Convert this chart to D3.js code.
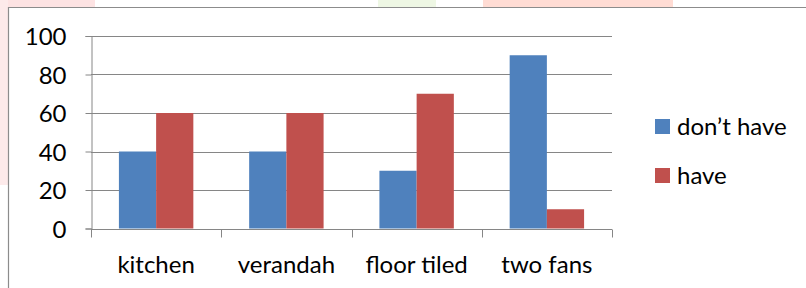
<!DOCTYPE html>
<head>
  <meta charset="utf-8">
  <script src="https://d3js.org/d3.v7.min.js"></script>
  <style>
    body { margin:0; background:#fff; }
    text { font-family: Lato, "Open Sans", sans-serif; fill:#000; }
  </style>
</head>
<body>
<script>
  // chart data
  var categories = ["kitchen", "verandah", "floor tiled", "two fans"];
  var seriesNames = ["don\u2019t have", "have"];
  var dontHave = [40, 40, 30, 90];
  var have = [60, 60, 70, 10];
  var yTicks = [0, 20, 40, 60, 80, 100];
  var colors = ["#4F81BD", "#C0504D"];

  var width = 806, height = 288;

  var svg = d3.select("body").append("svg")
    .attr("width", width)
    .attr("height", height)

  // faint page background showing above the chart frame
  var bg = svg.append("g").attr("class", "bg")
  bg.append("rect").attr("x", 0).attr("y", 0).attr("width", 95).attr("height", 7).attr("fill", "#fde3e3")
  bg.append("rect").attr("x", 0).attr("y", 0).attr("width", 8).attr("height", 185).attr("fill", "#fdeaea")
  bg.append("rect").attr("x", 378).attr("y", 0).attr("width", 58).attr("height", 7).attr("fill", "#eef7e4")
  bg.append("rect").attr("x", 483).attr("y", 0).attr("width", 190).attr("height", 7).attr("fill", "#ffdcd4")

  // chart frame
  svg.append("path")
    .attr("d", "M8.5,288 V7.5 H806")
    .attr("fill", "none")
    .attr("stroke", "#8c8c8c")
    .attr("stroke-width", 1.2)

  var plot = { left: 91, right: 612, top: 36, bottom: 228.5 };

  var x0 = d3.scaleBand()
    .domain(categories)
    .range([plot.left, plot.right])
    .paddingInner(0).paddingOuter(0)

  var x1 = d3.scaleBand()
    .domain(seriesNames)
    .range([0, x0.bandwidth()])
    .paddingInner(0).paddingOuter(0.75)

  var y = d3.scaleLinear()
    .domain([0, 100])
    .range([plot.bottom, plot.top])

  // gridlines
  svg.append("g").attr("class", "grid")
    .selectAll("line")
    .data(yTicks.filter(function(d){ return d > 0 }))
    .enter().append("line")
    .attr("x1", plot.left).attr("x2", plot.right)
    .attr("y1", function(d){ return Math.round(y(d)) + 0.5 })
    .attr("y2", function(d){ return Math.round(y(d)) + 0.5 })
    .attr("stroke", "#868686")

  // bars
  var rows = categories.map(function(c, i){
    return { cat: c, values: [dontHave[i], have[i]] }
  })

  svg.append("g").attr("class", "bars")
    .selectAll("g")
    .data(rows)
    .enter().append("g")
    .attr("transform", function(d){ return "translate(" + x0(d.cat) + ",0)" })
    .selectAll("rect")
    .data(function(d){ return d.values.map(function(v, j){ return { name: seriesNames[j], v: v, j: j } }) })
    .enter().append("rect")
    .attr("x", function(d){ return x1(d.name) })
    .attr("width", x1.bandwidth())
    .attr("y", function(d){ return y(d.v) })
    .attr("height", function(d){ return y(0) - y(d.v) })
    .attr("fill", function(d){ return colors[d.j] })

  // y axis
  var yAxis = d3.axisLeft(y).tickValues(yTicks).tickSize(6).tickPadding(19)
  var yg = svg.append("g")
    .attr("transform", "translate(" + (plot.left + 0.5) + ",0)")
    .call(yAxis)
  yg.selectAll("text").style("font-size", "24px").attr("dy", "0.36em")

  // x axis, ticks sit between categories
  var xg = svg.append("g")
    .attr("transform", "translate(0," + (Math.round(plot.bottom) + 0.5) + ")")
  xg.append("line")
    .attr("x1", plot.left).attr("x2", plot.right)
    .attr("stroke", "#868686")
  xg.selectAll(".xt")
    .data(d3.range(categories.length + 1))
    .enter().append("line")
    .attr("class", "xt")
    .attr("x1", function(i){ return Math.round(plot.left + i * x0.step()) + 0.5 })
    .attr("x2", function(i){ return Math.round(plot.left + i * x0.step()) + 0.5 })
    .attr("y1", 0).attr("y2", 8)
    .attr("stroke", "#868686")
  xg.selectAll(".xl")
    .data(categories)
    .enter().append("text")
    .attr("class", "xl")
    .attr("x", function(d){ return x0(d) + x0.bandwidth() / 2 })
    .attr("y", 43)
    .attr("text-anchor", "middle")
    .style("font-size", "24px")
    .text(function(d){ return d })

  yg.select(".domain").attr("stroke", "#868686")
  yg.selectAll(".tick line").attr("stroke", "#868686")

  // legend
  var legend = svg.append("g").attr("transform", "translate(655,119)")
  var items = legend.selectAll("g")
    .data(seriesNames)
    .enter().append("g")
    .attr("transform", function(d, i){ return "translate(0," + (i * 49) + ")" })
  items.append("rect")
    .attr("width", 15).attr("height", 15)
    .attr("fill", function(d, i){ return colors[i] })
  items.append("text")
    .attr("x", 22).attr("y", 7.5).attr("dy", "0.36em")
    .style("font-size", "24px")
    .text(function(d){ return d })
</script>
</body>
